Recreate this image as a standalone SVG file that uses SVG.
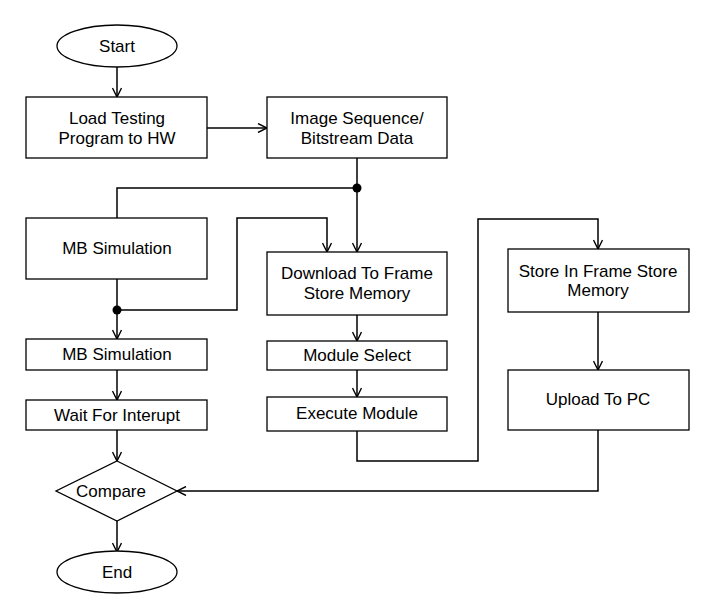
<svg xmlns="http://www.w3.org/2000/svg" width="716" height="616" viewBox="0 0 716 616">
<defs>
<style>
.n{fill:#fff;stroke:#000;stroke-width:1.3}
.t{font-family:"Liberation Sans",Arial,sans-serif;font-size:17px;fill:#000;text-anchor:middle}
.c{fill:none;stroke:#000;stroke-width:1.5}
</style>
<marker id="a" viewBox="0 0 10 10" refX="10" refY="5" markerWidth="10" markerHeight="10" markerUnits="userSpaceOnUse" orient="auto">
<path d="M1,0.5 L10,5 L1,9.5" fill="none" stroke="#000" stroke-width="1.4"/>
</marker>
</defs>
<rect width="716" height="616" fill="#fff"/>
<g id="connectors">
<path class="c" d="M117,67 V97" marker-end="url(#a)"/>
<path class="c" d="M207,128 H267" marker-end="url(#a)"/>
<path class="c" d="M357,158 V252" marker-end="url(#a)"/>
<path class="c" d="M357,188 H117 V218"/>
<path class="c" d="M117,279 V339" marker-end="url(#a)"/>
<path class="c" d="M117,310 H237 V218 H327 V252" marker-end="url(#a)"/>
<path class="c" d="M357,315 V341" marker-end="url(#a)"/>
<path class="c" d="M357,370 V397" marker-end="url(#a)"/>
<path class="c" d="M357,431 V461 H478 V219 H598 V249" marker-end="url(#a)"/>
<path class="c" d="M598,312 V370" marker-end="url(#a)"/>
<path class="c" d="M598,430 V491 H177" marker-end="url(#a)"/>
<path class="c" d="M117,370 V400" marker-end="url(#a)"/>
<path class="c" d="M117,430 V461" marker-end="url(#a)"/>
<path class="c" d="M117,521 V552" marker-end="url(#a)"/>
<circle cx="357" cy="188" r="4.5" fill="#000"/>
<circle cx="117" cy="310" r="4.5" fill="#000"/>
</g>
<g id="start"><ellipse class="n" cx="117" cy="46" rx="60" ry="21"/><text class="t" x="117" y="52">Start</text></g>
<g id="load"><rect class="n" x="26" y="97" width="181" height="61"/><text class="t" x="117" y="124">Load Testing</text><text class="t" x="117" y="144">Program to HW</text></g>
<g id="image"><rect class="n" x="267" y="97" width="180" height="61"/><text class="t" x="357" y="124">Image Sequence/</text><text class="t" x="357" y="144">Bitstream Data</text></g>
<g id="mbsim1"><rect class="n" x="26" y="218" width="181" height="61"/><text class="t" x="117" y="254">MB Simulation</text></g>
<g id="download"><rect class="n" x="267" y="252" width="180" height="63"/><text class="t" x="357" y="279">Download To Frame</text><text class="t" x="357" y="299">Store Memory</text></g>
<g id="store"><rect class="n" x="508" y="249" width="181" height="63"/><text class="t" x="598" y="277">Store In Frame Store</text><text class="t" x="598" y="296">Memory</text></g>
<g id="mbsim2"><rect class="n" x="26" y="339" width="181" height="31"/><text class="t" x="117" y="360">MB Simulation</text></g>
<g id="modsel"><rect class="n" x="267" y="341" width="180" height="29"/><text class="t" x="357" y="361">Module Select</text></g>
<g id="upload"><rect class="n" x="508" y="370" width="181" height="60"/><text class="t" x="598" y="405">Upload To PC</text></g>
<g id="wait"><rect class="n" x="26" y="400" width="181" height="30"/><text class="t" x="117" y="421">Wait For Interupt</text></g>
<g id="exec"><rect class="n" x="267" y="397" width="180" height="34"/><text class="t" x="357" y="419">Execute Module</text></g>
<g id="compare"><polygon class="n" points="117,461 177,491 117,521 56,491"/><text class="t" x="111" y="497">Compare</text></g>
<g id="end"><ellipse class="n" cx="117" cy="572" rx="60" ry="21"/><text class="t" x="117" y="578">End</text></g>
</svg>
